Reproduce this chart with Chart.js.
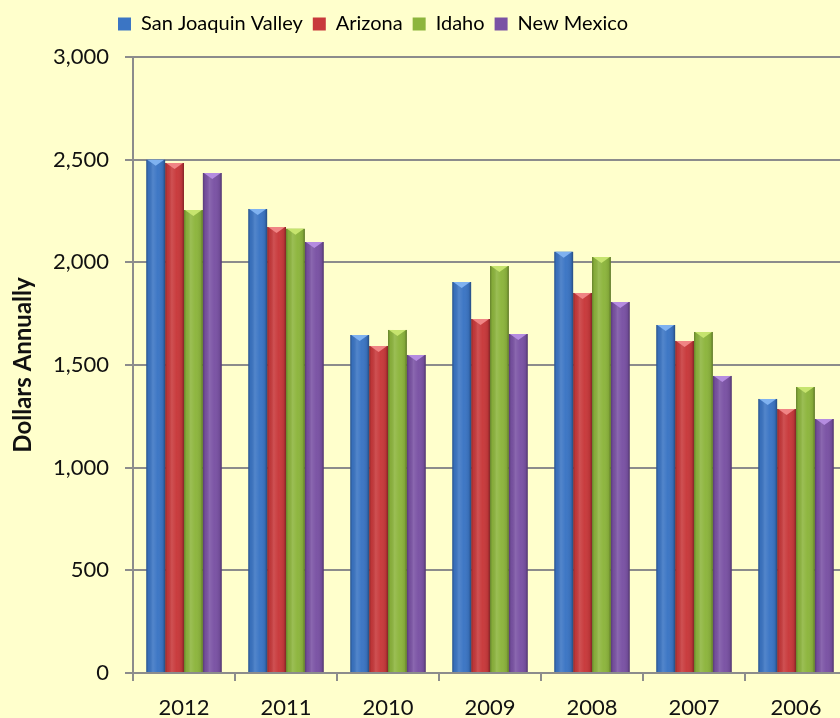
<!DOCTYPE html>
<html>
<head>
<meta charset="utf-8">
<script src="https://cdn.jsdelivr.net/npm/chart.js@4.4.1/dist/chart.umd.min.js"></script>
<style>
  html, body { margin: 0; padding: 0; background: #FFFFCC; overflow: hidden; }
  #wrap { width: 860px; height: 718px; }
</style>
</head>
<body>
<div id="wrap"><canvas id="chart"></canvas></div>
<script>
const years = ["2012", "2011", "2010", "2009", "2008", "2007", "2006"];
const sanJoaquin = [2499, 2260, 1646, 1904, 2051, 1695, 1335];
const arizona = [2484, 2172, 1593, 1724, 1851, 1617, 1286];
const idaho = [2255, 2163, 1671, 1982, 2026, 1661, 1393];
const newMexico = [2435, 2099, 1549, 1651, 1807, 1447, 1237];
const yTicks = [0, 500, 1000, 1500, 2000, 2500, 3000];

const seriesNames = ["San Joaquin Valley", "Arizona", "Idaho", "New Mexico"];
const seriesColors = ["#3B75C4", "#C8393B", "#8DB53D", "#7A52A4"];
const capColors = ["#7FB2F0", "#F08585", "#C6E46E", "#B58CE0"];

const gridGray = "#8C8C8C";
const font = "Lato, 'Noto Sans', sans-serif";

// shading plugin: cylinder-ish gradient and a light cap on each bar
const barShade = {
  id: "barShade",
  afterDatasetsDraw(chart) {
    const ctx = chart.ctx;
    chart.data.datasets.forEach((ds, di) => {
      const meta = chart.getDatasetMeta(di);
      meta.data.forEach((bar) => {
        const left = bar.x - bar.width / 2;
        const right = bar.x + bar.width / 2;
        const top = bar.y;
        const bottom = bar.base;
        ctx.save();
        const g = ctx.createLinearGradient(left, 0, right, 0);
        g.addColorStop(0, "rgba(0,0,0,0.28)");
        g.addColorStop(0.12, "rgba(0,0,0,0.05)");
        g.addColorStop(0.35, "rgba(255,255,255,0.12)");
        g.addColorStop(0.6, "rgba(255,255,255,0.02)");
        g.addColorStop(0.88, "rgba(0,0,0,0.08)");
        g.addColorStop(1, "rgba(0,0,0,0.35)");
        ctx.fillStyle = g;
        ctx.fillRect(left, top, right - left, bottom - top);
        ctx.fillStyle = capColors[di];
        ctx.beginPath();
        ctx.moveTo(left + 1, top);
        ctx.lineTo(right - 1, top);
        ctx.lineTo(bar.x, top + 6);
        ctx.closePath();
        ctx.fill();
        ctx.restore();
      });
    });
  }
};

// legend sits left of centre and has extra room below it
const legendTweak = {
  id: "legendTweak",
  beforeInit(chart) {
    const fit = chart.legend.fit;
    chart.legend.fit = function () {
      fit.call(this);
      this.height += 13;
    };
  },
  afterLayout(chart) {
    chart.legend.left = 108;
  }
};

const datasets = [sanJoaquin, arizona, idaho, newMexico].map((vals, i) => ({
  label: seriesNames[i],
  data: vals,
  backgroundColor: seriesColors[i],
  borderWidth: 0,
  barPercentage: 1,
  categoryPercentage: 0.74
}));

new Chart(document.getElementById("chart"), {
  type: "bar",
  data: { labels: years, datasets: datasets },
  plugins: [barShade, legendTweak],
  options: {
    responsive: true,
    maintainAspectRatio: false,
    animation: false,
    layout: { padding: { top: 4, left: 4, right: 13, bottom: 0 } },
    plugins: {
      tooltip: { enabled: false },
      legend: {
        position: "top",
        align: "start",
        labels: {
          font: { family: font, size: 20 },
          color: "#111",
          boxWidth: 13,
          boxHeight: 13,
          padding: 10,
          generateLabels(chart) {
            return chart.data.datasets.map((ds, i) => ({
              text: ds.label,
              fillStyle: seriesColors[i],
              strokeStyle: seriesColors[i],
              lineWidth: 0,
              datasetIndex: i
            }));
          }
        }
      }
    },
    scales: {
      x: {
        grid: {
          offset: true,
          drawOnChartArea: false,
          drawTicks: true,
          tickLength: 8,
          color: gridGray,
          lineWidth: 2
        },
        border: { color: gridGray, width: 2 },
        ticks: { font: { family: font, size: 22 }, color: "#111", padding: 14 },
        afterFit(scale) { scale.height = 45; }
      },
      y: {
        min: 0,
        max: 3000,
        afterBuildTicks(scale) { scale.ticks = yTicks.map(v => ({ value: v })); },
        grid: { color: gridGray, lineWidth: 2, tickLength: 8 },
        border: { color: gridGray, width: 2 },
        ticks: {
          font: { family: font, size: 22 },
          color: "#111",
          padding: 16,
          callback: (v) => v.toLocaleString("en-US")
        },
        title: {
          display: true,
          text: "Dollars Annually",
          font: { family: font, size: 24, weight: "bold" },
          color: "#111",
          padding: { top: 5, bottom: 0 }
        },
        afterFit(scale) { scale.width = 129; }
      }
    }
  }
});
</script>
</body>
</html>
